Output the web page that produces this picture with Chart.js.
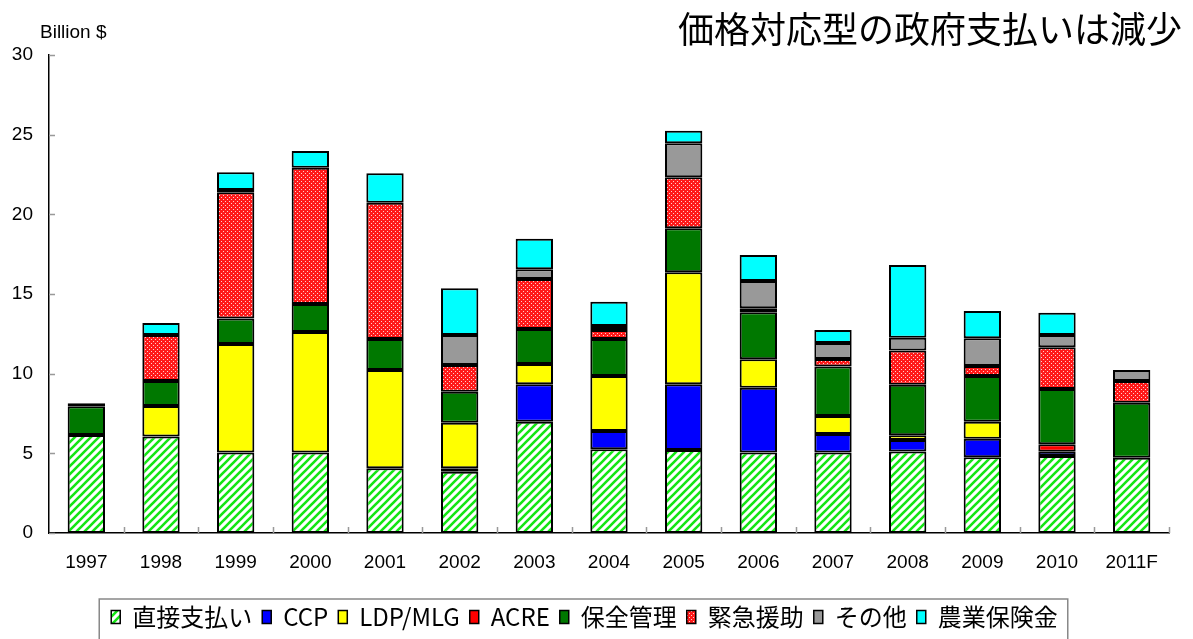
<!DOCTYPE html>
<html>
<head>
<meta charset="utf-8">
<script src="https://cdn.jsdelivr.net/npm/chart.js@4"></script>
<style>
  html, body { margin: 0; padding: 0; background: #fff; }
</style>
</head>
<body>
<canvas id="chart" width="1193" height="639"></canvas>
<script>
// data (billion $)
const years = ["1997","1998","1999","2000","2001","2002","2003","2004","2005","2006","2007","2008","2009","2010","2011F"];
const directPay  = [6.15, 6.05, 5.06, 5.06, 4.06, 3.85, 6.99, 5.25, 5.21, 5.06, 5.06, 5.12, 4.75, 4.83, 4.73];
const ccp        = [null, null, null, null, null, 0.21, 2.34, 1.15, 4.12, 4.06, 1.15, 0.72, 1.17, 0.27, null];
const ldpMlg     = [null, 1.92, 6.80, 7.56, 6.17, 2.86, 1.28, 3.46, 7.03, 1.78, 1.13, 0.29, 1.07, null, null];
const acre       = [null, null, null, null, null, null, null, null, null, null, null, null, null, 0.47, null];
const conserve   = [1.80, 1.57, 1.61, 1.76, 1.95, 1.95, 2.19, 2.32, 2.77, 2.95, 3.11, 3.18, 2.87, 3.47, 3.45];
const emergency  = [0.20, 2.89, 7.91, 8.55, 8.55, 1.68, 3.14, 0.56, 3.20, 0.25, 0.47, 2.14, 0.62, 2.62, 1.36];
const other      = [null, null, 0.14, null, null, 1.88, 0.61, 0.25, 2.13, 1.72, 1.01, 0.81, 1.74, 0.77, 0.69];
const insurance  = [null, 0.75, 1.12, 1.05, 1.85, 2.93, 1.91, 1.53, 0.78, 1.63, 0.81, 4.56, 1.72, 1.40, null];
const yTicks = [0, 5, 10, 15, 20, 25, 30];

const canvas = document.getElementById("chart");
const ctx = canvas.getContext("2d");

function hatchPattern() {
  const c = document.createElement("canvas");
  c.width = 8; c.height = 8;
  const g = c.getContext("2d");
  g.fillStyle = "#fff";
  g.fillRect(0, 0, 8, 8);
  g.strokeStyle = "#14e614";
  g.lineWidth = 2.6;
  g.beginPath();
  g.moveTo(-2, 10); g.lineTo(10, -2);
  g.moveTo(-2, 2);  g.lineTo(2, -2);
  g.moveTo(6, 10);  g.lineTo(10, 6);
  g.stroke();
  return ctx.createPattern(c, "repeat");
}

function dotPattern() {
  const c = document.createElement("canvas");
  c.width = 4; c.height = 4;
  const g = c.getContext("2d");
  g.fillStyle = "#ff1a1a";
  g.fillRect(0, 0, 4, 4);
  g.fillStyle = "#ffd0d0";
  g.fillRect(1, 1, 1, 1);
  g.fillRect(3, 3, 1, 1);
  return ctx.createPattern(c, "repeat");
}

function ds(label, data, color) {
  return {
    label: label,
    data: data,
    backgroundColor: color,
    borderColor: "#000",
    borderWidth: 2,
    borderSkipped: false,
    barPercentage: 0.5,
    categoryPercentage: 1.0
  };
}

const decor = {
  id: "decor",
  afterDraw(chart) {
    const c = chart.ctx;
    const area = chart.chartArea;
    const x = chart.scales.x, y = chart.scales.y;
    const step = x.getPixelForValue(1) - x.getPixelForValue(0);
    c.save();
    // inward tick marks
    c.strokeStyle = "#999";
    c.lineWidth = 1.5;
    c.beginPath();
    yTicks.forEach(v => {
      const py = Math.round(y.getPixelForValue(v)) + 0.5;
      c.moveTo(area.left, py); c.lineTo(area.left + 6, py);
    });
    for (let i = 0; i < years.length; i++) {
      const px = Math.round(x.getPixelForValue(i) + step / 2) + 0.5;
      c.moveTo(px, area.bottom); c.lineTo(px, area.bottom - 6);
    }
    c.stroke();
    // unit label and title
    c.fillStyle = "#000";
    c.textBaseline = "alphabetic";
    c.textAlign = "left";
    c.font = "19px 'Liberation Sans', Arial, sans-serif";
    c.fillText("Billion $", 40, 38);
    c.textAlign = "right";
    c.font = "36px 'Noto Sans CJK JP', sans-serif";
    c.fillText("価格対応型の政府支払いは減少", 1182, 43);
    // legend frame
    const boxes = chart.legend.legendHitBoxes;
    if (boxes && boxes.length) {
      const l = Math.min(...boxes.map(b => b.left)) - 12;
      const r = Math.max(...boxes.map(b => b.left + b.width)) + 10;
      const t = Math.min(...boxes.map(b => b.top)) - 6;
      c.strokeStyle = "#888";
      c.lineWidth = 1.5;
      c.strokeRect(l, t, r - l, 60);
    }
    c.restore();
  }
};

new Chart(canvas, {
  type: "bar",
  data: {
    labels: years,
    datasets: [
      ds("直接支払い", directPay, hatchPattern()),
      ds("CCP", ccp, "#0000ff"),
      ds("LDP/MLG", ldpMlg, "#ffff00"),
      ds("ACRE", acre, "#ff0000"),
      ds("保全管理", conserve, "#007800"),
      ds("緊急援助", emergency, dotPattern()),
      ds("その他", other, "#999999"),
      ds("農業保険金", insurance, "#00ffff")
    ]
  },
  options: {
    responsive: false,
    animation: false,
    layout: { padding: { top: 55, right: 24, left: 0, bottom: 0 } },
    plugins: {
      tooltip: { enabled: false },
      legend: {
        position: "bottom",
        labels: {
          color: "#000",
          font: { size: 24, family: "'Noto Sans CJK JP', sans-serif" },
          boxWidth: 9,
          boxHeight: 13,
          padding: 10,
          generateLabels(chart) {
            const items = Chart.defaults.plugins.legend.labels.generateLabels(chart);
            items.forEach(it => { it.lineWidth = 1.5; });
            return items;
          }
        }
      }
    },
    scales: {
      x: {
        stacked: true,
        grid: { display: false, drawTicks: false },
        border: { display: true, color: "#000", width: 1.5 },
        ticks: {
          color: "#000",
          padding: 18,
          maxRotation: 0,
          font: { size: 19, family: "'Liberation Sans', Arial, sans-serif" }
        },
        afterFit(s) { s.height = 62; }
      },
      y: {
        stacked: true,
        min: 0,
        max: 30,
        grid: { display: false, drawTicks: false },
        border: { display: true, color: "#000", width: 1.5 },
        ticks: {
          stepSize: 5,
          color: "#000",
          padding: 16,
          font: { size: 19, family: "'Liberation Sans', Arial, sans-serif" }
        },
        afterFit(s) { s.width = 49; }
      }
    }
  },
  plugins: [decor]
});
</script>
</body>
</html>
